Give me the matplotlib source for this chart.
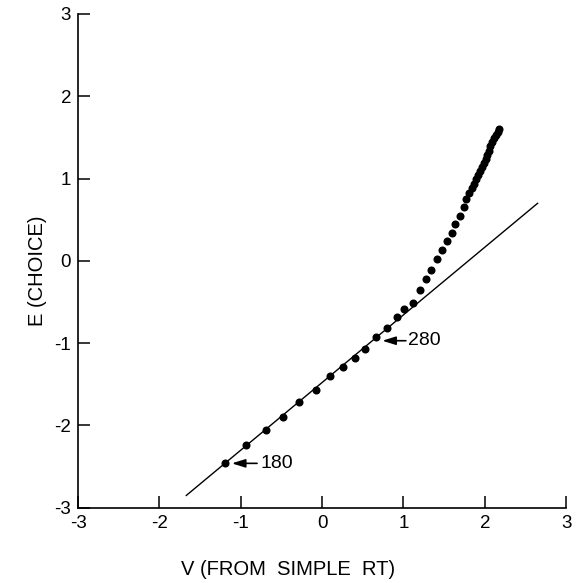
import numpy as np
import matplotlib.pyplot as plt

# Точки E(choice) против V(simple RT), шаг 10 мс начиная со 180 мс
v_simple = [-1.19, -0.93, -0.69, -0.48, -0.28, -0.08, 0.10, 0.26, 0.40, 0.53,
            0.66, 0.80, 0.92, 1.01, 1.12, 1.20, 1.28, 1.34, 1.41, 1.48,
            1.54, 1.60, 1.64, 1.69, 1.74, 1.77, 1.81, 1.84, 1.87, 1.895,
            1.92, 1.945, 1.97, 1.99, 2.01, 2.03, 2.05, 2.07, 2.09, 2.11,
            2.135, 2.16, 2.18]
e_choice = [-2.46, -2.24, -2.05, -1.90, -1.72, -1.57, -1.40, -1.29, -1.18, -1.07,
            -0.93, -0.82, -0.68, -0.59, -0.51, -0.35, -0.22, -0.11, 0.02, 0.13,
            0.24, 0.34, 0.45, 0.55, 0.66, 0.75, 0.82, 0.88, 0.94, 0.99,
            1.04, 1.09, 1.14, 1.19, 1.24, 1.29, 1.34, 1.39, 1.44, 1.49,
            1.53, 1.57, 1.60]

# Прямая
line_x = [-1.67, 2.65]
line_y = [-2.85, 0.70]

ticks = [-3, -2, -1, 0, 1, 2, 3]
tick_labels = ['-3', '-2', '-1', '0', '1', '2', '3']

plt.rcParams['font.family'] = ['Liberation Sans', 'DejaVu Sans']

fig = plt.figure(figsize=(5.83, 5.83), dpi=100)
ax = fig.add_axes([0.134, 0.129, 0.837, 0.847])

ax.plot(line_x, line_y, color='black', linewidth=1.0)
ax.plot(v_simple, e_choice, 'o', color='black', markersize=5.8, markeredgewidth=0)

# Стрелки с подписями
arrow = dict(arrowstyle='-|>,head_length=0.8,head_width=0.25', color='black',
             lw=1.2, mutation_scale=10, shrinkA=0, shrinkB=0)
ax.annotate('', xy=(-1.11, -2.46), xytext=(-0.80, -2.46), arrowprops=arrow)
ax.text(-0.76, -2.46, '180', fontsize=14, va='center', ha='left')
ax.annotate('', xy=(0.74, -0.97), xytext=(1.03, -0.97), arrowprops=arrow)
ax.text(1.06, -0.97, '280', fontsize=14, va='center', ha='left')

ax.set_xlim(-3, 3)
ax.set_ylim(-3, 3)
ax.set_xticks(ticks)
ax.set_xticklabels(tick_labels)
ax.set_yticks(ticks)
ax.set_yticklabels(tick_labels)
ax.tick_params(direction='in', length=8.5, width=1.1, labelsize=13.5, pad=5)

for side in ['top', 'right']:
    ax.spines[side].set_visible(False)
for side in ['left', 'bottom']:
    ax.spines[side].set_linewidth(1.2)

ax.set_xlabel('V (FROM  SIMPLE  RT)', fontsize=14.5)
ax.xaxis.set_label_coords(0.43, -0.105)
ax.set_ylabel('E (CHOICE)', fontsize=14.5)
ax.yaxis.set_label_coords(-0.064, 0.48)

plt.savefig('out.png', dpi=100)
